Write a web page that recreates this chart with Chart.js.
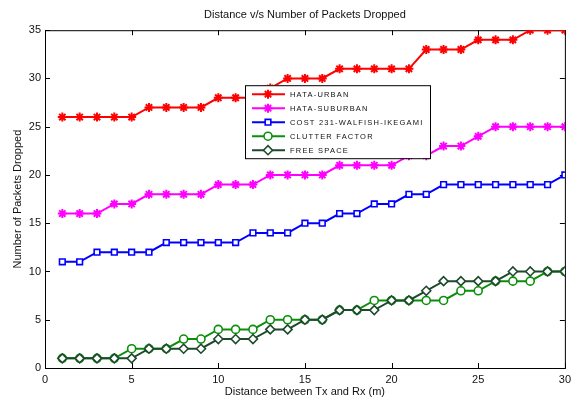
<!DOCTYPE html>
<html>
<head>
<meta charset="utf-8">
<script src="https://cdn.jsdelivr.net/npm/chart.js@4/dist/chart.umd.min.js"></script>
<style>
  html, body { margin: 0; padding: 0; background: #fff; }
  #wrap { width: 576px; height: 403px; }
</style>
</head>
<body>
<div id="wrap"><canvas id="dropChart" width="576" height="403"></canvas></div>
<script>
// Distance between Tx and Rx (m)
const distance = [1, 2, 3, 4, 5, 6, 7, 8, 9, 10, 11, 12, 13, 14, 15,
                  16, 17, 18, 19, 20, 21, 22, 23, 24, 25, 26, 27, 28, 29, 30];

// Number of packets dropped for each model
const hataUrban    = [26, 26, 26, 26, 26, 27, 27, 27, 27, 28, 28, 28, 29, 30, 30,
                      30, 31, 31, 31, 31, 31, 33, 33, 33, 34, 34, 34, 35, 35, 35];
const hataSuburban = [16, 16, 16, 17, 17, 18, 18, 18, 18, 19, 19, 19, 20, 20, 20,
                      20, 21, 21, 21, 21, 22, 22, 23, 23, 24, 25, 25, 25, 25, 25];
const cost231      = [11, 11, 12, 12, 12, 12, 13, 13, 13, 13, 13, 14, 14, 14, 15,
                      15, 16, 16, 17, 17, 18, 18, 19, 19, 19, 19, 19, 19, 19, 20];
const clutter      = [1, 1, 1, 1, 2, 2, 2, 3, 3, 4, 4, 4, 5, 5, 5,
                      5, 6, 6, 7, 7, 7, 7, 7, 8, 8, 9, 9, 9, 10, 10];
const freeSpace    = [1, 1, 1, 1, 1, 2, 2, 2, 2, 3, 3, 3, 4, 4, 5,
                      5, 6, 6, 6, 7, 7, 8, 9, 9, 9, 9, 10, 10, 10, 10];

const xTicks = [0, 5, 10, 15, 20, 25, 30];
const yTicks = [0, 5, 10, 15, 20, 25, 30, 35];

const FONT = '"Liberation Sans", Arial, Helvetica, sans-serif';

function points(values) {
    return values.map((v, i) => ({ x: distance[i], y: v }));
}

function series(label, values, color, style, radius, order) {
    return {
        label: label,
        data: points(values),
        borderColor: color,
        backgroundColor: color,
        borderWidth: 2,
        pointStyle: style,
        pointRadius: radius,
        pointHoverRadius: radius,
        pointBorderWidth: style === 'star' ? 2 : 1.6,
        pointBorderColor: color,
        pointBackgroundColor: style === 'star' ? color : '#ffffff',
        fill: false,
        tension: 0,
        order: order
    };
}

// MATLAB-like box with inward ticks on all four sides
const boxPlugin = {
    id: 'boxFrame',
    beforeDatasetsDraw(chart) {
        const { ctx, chartArea: a, scales } = chart;
        ctx.save();
        ctx.strokeStyle = '#000';
        ctx.lineWidth = 1;
        ctx.strokeRect(a.left + 0.5, a.top + 0.5, a.right - a.left, a.bottom - a.top);
        ctx.beginPath();
        const t = 5;
        xTicks.forEach(v => {
            const px = Math.round(scales.x.getPixelForValue(v)) + 0.5;
            ctx.moveTo(px, a.bottom); ctx.lineTo(px, a.bottom - t);
            ctx.moveTo(px, a.top); ctx.lineTo(px, a.top + t);
        });
        yTicks.forEach(v => {
            const py = Math.round(scales.y.getPixelForValue(v)) + 0.5;
            ctx.moveTo(a.left, py); ctx.lineTo(a.left + t, py);
            ctx.moveTo(a.right, py); ctx.lineTo(a.right - t, py);
        });
        ctx.stroke();
        ctx.restore();
    }
};

// legend box drawn inside the plot area
const innerLegend = {
    id: 'innerLegend',
    afterDatasetsDraw(chart) {
        const { ctx, chartArea: a } = chart;
        const left = a.left + 200, top = a.top + 55, w = 185, h = 73;
        ctx.save();
        ctx.fillStyle = '#fff';
        ctx.fillRect(left, top, w, h);
        ctx.strokeStyle = '#000';
        ctx.lineWidth = 1;
        ctx.strokeRect(left + 0.5, top + 0.5, w, h);
        ctx.font = '7.5px ' + FONT;
        ctx.letterSpacing = '1.2px';
        ctx.textBaseline = 'middle';
        chart.data.datasets.forEach((ds, i) => {
            const y = top + 9 + i * 14;
            ctx.strokeStyle = ds.borderColor;
            ctx.lineWidth = 2;
            ctx.beginPath();
            ctx.moveTo(left + 7, y);
            ctx.lineTo(left + 40, y);
            ctx.stroke();
            ctx.fillStyle = ds.pointBackgroundColor;
            ctx.lineWidth = ds.pointBorderWidth;
            if (Chart.helpers && Chart.helpers.drawPoint) {
                Chart.helpers.drawPoint(ctx, {
                    pointStyle: ds.pointStyle,
                    radius: ds.pointRadius,
                    rotation: 0,
                    borderWidth: ds.pointBorderWidth
                }, left + 23, y);
            }
            ctx.fillStyle = '#111';
            ctx.fillText(ds.label, left + 45, y + 0.5);
        });
        ctx.restore();
    }
};

const ctx = document.getElementById('dropChart').getContext('2d');

new Chart(ctx, {
    type: 'line',
    data: {
        datasets: [
            series('HATA-URBAN', hataUrban, '#ff0000', 'star', 4.5, 4),
            series('HATA-SUBURBAN', hataSuburban, '#ff00ff', 'star', 4.5, 3),
            series('COST 231-WALFISH-IKEGAMI', cost231, '#0000ff', 'rect', 4, 2),
            series('CLUTTER FACTOR', clutter, '#0b8f0b', 'circle', 4, 1),
            series('FREE SPACE', freeSpace, '#1d4a2c', 'rectRot', 4.5, 0)
        ]
    },
    options: {
        responsive: false,
        animation: false,
        events: [],
        layout: { padding: { left: 0, right: 10, top: 0, bottom: 0 } },
        plugins: {
            legend: { display: false },
            tooltip: { enabled: false },
            title: {
                display: true,
                text: 'Distance v/s Number of Packets Dropped',
                fullSize: false,
                color: '#111',
                font: { family: FONT, size: 11, weight: 'normal', lineHeight: 1.2 },
                padding: { top: 8, bottom: 9 }
            }
        },
        scales: {
            x: {
                type: 'linear',
                min: 0,
                max: 30,
                grid: { display: false, drawTicks: false },
                border: { display: false },
                afterBuildTicks: s => { s.ticks = xTicks.map(v => ({ value: v })); },
                afterFit: s => { s.height = 35; },
                ticks: {
                    color: '#111',
                    padding: 5,
                    maxRotation: 0,
                    font: { family: FONT, size: 11 }
                },
                title: {
                    display: true,
                    text: 'Distance between Tx and Rx (m)',
                    color: '#111',
                    font: { family: FONT, size: 11, lineHeight: 1.2 },
                    padding: { top: 0, bottom: 4 }
                }
            },
            y: {
                type: 'linear',
                min: 0,
                max: 35,
                grid: { display: false, drawTicks: false },
                border: { display: false },
                afterBuildTicks: s => { s.ticks = yTicks.map(v => ({ value: v })); },
                afterFit: s => { s.width = 45; },
                ticks: {
                    color: '#111',
                    padding: 4,
                    font: { family: FONT, size: 11 }
                },
                title: {
                    display: true,
                    text: 'Number of Packets Dropped',
                    color: '#111',
                    font: { family: FONT, size: 11, lineHeight: 1.2 },
                    padding: { top: 11, bottom: 0 }
                }
            }
        }
    },
    plugins: [boxPlugin, innerLegend]
});
</script>
</body>
</html>
